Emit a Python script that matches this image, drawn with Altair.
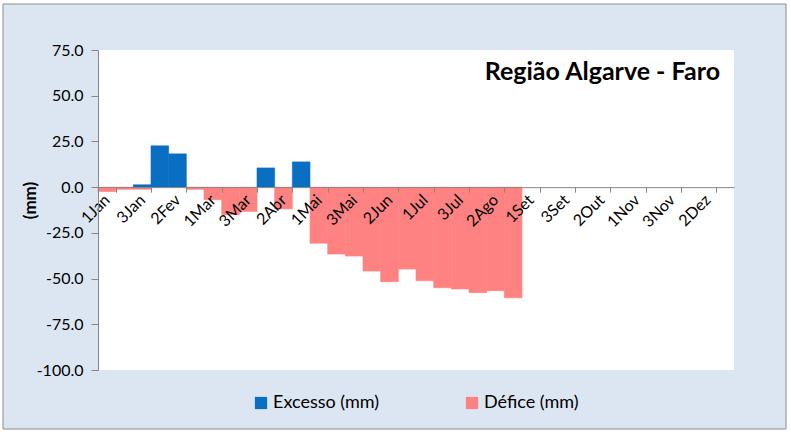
import altair as alt
import pandas as pd

months = ["Jan", "Fev", "Mar", "Abr", "Mai", "Jun", "Jul", "Ago", "Set", "Out", "Nov", "Dez"]
categories = [f"{d}{m}" for m in months for d in (1, 2, 3)]

excesso = [0, 0, 1.3, 22.6, 18.2, 0, 0, 0, 0, 10.5, 0, 13.8,
           0, 0, 0, 0, 0, 0, 0, 0, 0, 0, 0, 0,
           0, 0, 0, 0, 0, 0, 0, 0, 0, 0, 0, 0]
defice = [-2.4, -1.2, -1.2, 0, 0, -1.2, -6.9, -15.1, -13.3, 0, -11.9, 0,
          -30.7, -36.6, -37.7, -45.9, -51.7, -44.8, -51.2, -55.0, -55.7, -57.7, -56.6, -60.5,
          0, 0, 0, 0, 0, 0, 0, 0, 0, 0, 0, 0]
shown_labels = categories[::2]
y_ticks = [75, 50, 25, 0, -25, -50, -75, -100]
series_names = ["Excesso (mm)", "Défice (mm)"]
series_colors = ["#0A6FC2", "#FF8282"]

rows = []
for c, e, d in zip(categories, excesso, defice):
    if d != 0:
        rows.append({"cat": c, "serie": series_names[1], "v": d})
    if e != 0:
        rows.append({"cat": c, "serie": series_names[0], "v": e})
df = pd.DataFrame(rows)

W, H = 636, 320
FONT = "Lato"

frame = alt.Chart(pd.DataFrame({"a": [0]})).mark_rect(
    fill="#DCE6F2", stroke="#8C8C8C", strokeWidth=1
).encode(x=alt.value(-95), x2=alt.value(688), y=alt.value(-46), y2=alt.value(379))

plotbg = alt.Chart(pd.DataFrame({"a": [0]})).mark_rect(fill="white").encode(
    x=alt.value(0), x2=alt.value(W), y=alt.value(0), y2=alt.value(H)
)

zero_offset = -(H - H * 75 / 175)
color_scale = alt.Scale(domain=series_names, range=series_colors)

bars = alt.Chart(df).mark_bar(strokeWidth=0.6).encode(
    x=alt.X(
        "cat:N",
        sort=categories,
        scale=alt.Scale(domain=categories, paddingInner=0, paddingOuter=0),
        axis=alt.Axis(
            title=None,
            values=shown_labels,
            labelAngle=-45,
            labelAlign="right",
            labelBaseline="middle",
            labelFont=FONT,
            labelFontSize=16,
            labelColor="#000000",
            labelPadding=5,
            tickBand="extent",
            tickSize=5,
            tickColor="#868686",
            domainColor="#868686",
            offset=zero_offset,
            labelOverlap=False,
            grid=False,
            zindex=1,
        ),
    ),
    y=alt.Y(
        "v:Q",
        scale=alt.Scale(domain=[-100, 75], nice=False, zero=True),
        axis=alt.Axis(
            title="(mm)",
            values=y_ticks,
            labelExpr="replace(format(datum.value, '.1f'), '\u2212', '-')",
            labelFont=FONT,
            labelFontSize=16,
            labelColor="#000000",
            labelPadding=8,
            tickSize=7,
            tickColor="#868686",
            domainColor="#868686",
            grid=False,
            titleFont=FONT,
            titleFontSize=17,
            titleFontWeight="bold",
            titleColor="#000000",
            titleX=-68,
            titleY=150,
            titleAngle=-90,
            titleAlign="center",
            titleBaseline="middle",
            zindex=1,
        ),
    ),
    color=alt.Color(
        "serie:N",
        scale=color_scale,
        legend=alt.Legend(
            title=None,
            orient="none",
            direction="horizontal",
            legendX=154,
            legendY=344,
            symbolType="square",
            symbolSize=150,
            symbolStrokeWidth=0,
            labelFont=FONT,
            labelFontSize=18,
            labelColor="#000000",
            labelOffset=3,
            columnPadding=83,
        ),
    ),
    stroke=alt.Stroke("serie:N", scale=color_scale, legend=None),
    order=alt.Order("serie:N"),
)

chart = alt.layer(frame, plotbg, bars).properties(
    width=W,
    height=H,
    padding={"left": 98, "top": 50, "right": 57, "bottom": 66},
    autosize=alt.AutoSizeParams(type="none"),
    background="white",
    title=alt.TitleParams(
        "Região Algarve - Faro",
        anchor="end",
        frame="group",
        font=FONT,
        fontSize=25,
        fontWeight="bold",
        color="#000000",
        dx=-14,
        dy=85,
    ),
).configure_view(stroke=None)

chart.save("out.html", embed_options={"renderer": "svg", "actions": False})
